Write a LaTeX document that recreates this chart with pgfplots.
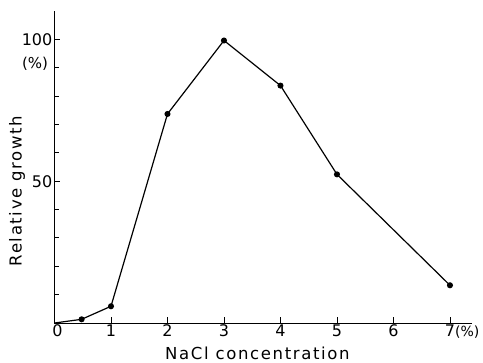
\documentclass[border=0pt]{standalone}
\usepackage{pgfplots}
\pgfplotsset{compat=1.18}
\usepackage{fontspec}
\setmainfont{DejaVu Sans}
\newfontfamily\lab[LetterSpace=10]{DejaVu Sans}
\newfontfamily\num{DejaVu Sans}
\begin{document}
\begin{tikzpicture}
\begin{axis}[
  scale only axis, width=417.5pt, height=312pt,
  xmin=0, xmax=7.39, ymin=0, ymax=110,
  axis lines=left, axis line style={-, line width=1pt},
  xtick={0,1,2,3,4,5,6,7},
  xticklabels={\hspace*{6pt}0,1,2,3,4,5,6,7\rlap{\fontsize{14}{14}\selectfont(\%)}},
  ytick={50,100}, yticklabels={50,100},
  minor ytick={10,20,30,40,60,70,80,90},
  tick align=inside, major tick length=6pt, minor tick length=5pt,
  tick style={line width=0.9pt, black},
  ticklabel style={font=\num\fontsize{16}{16}\selectfont},
  xticklabel style={inner sep=1.5pt},
  yticklabel style={inner sep=2pt},
  xlabel={NaCl concentration}, ylabel={Relative growth},
  label style={font=\lab\fontsize{16.5}{16.5}\selectfont},
  xlabel style={at={(axis description cs:0.486,-0.0962)}, anchor=center},
  ylabel style={at={(axis description cs:-0.0898,0.423)}, anchor=center},
  clip=false,
]
\addplot[black, line width=1.2pt, mark=*, mark size=2.4pt, mark indices={2,3,4,5,6,7,8}]
  coordinates {(0,0) (0.48,1.3) (1,5.9) (2,73.7) (3,99.6) (4,83.7) (5,52.4) (7,13.3)};
\node[anchor=east, font=\num\fontsize{15}{15}\selectfont, xshift=-3pt] at (axis cs:0,91.5) {(\%)};
\end{axis}
\pgfresetboundingbox
\useasboundingbox (-54.5pt,-39.3pt) rectangle (428.5pt,323pt);
\end{tikzpicture}
\end{document}
